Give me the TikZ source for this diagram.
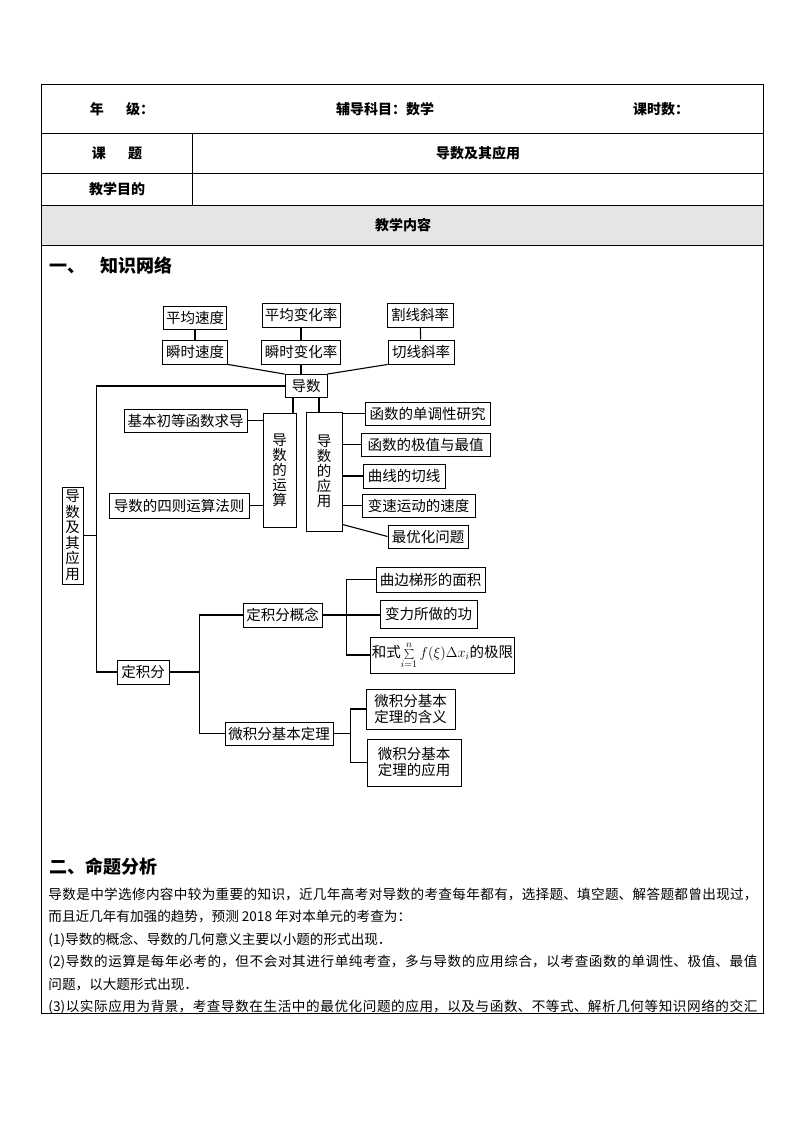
\documentclass[tikz,border=0pt]{standalone}
\usepackage[no-math]{fontspec}
\setmainfont{Noto Sans CJK SC}
\usepackage{tikz}
\usetikzlibrary{positioning,calc}
\XeTeXlinebreaklocale "zh"
\XeTeXlinebreakskip=0pt plus 2pt

\begin{document}
\begin{tikzpicture}[x=1pt,y=-1pt,line width=0.9pt,
  b/.style={draw,inner sep=1pt,font=\fontsize{14.5}{16}\selectfont},
  v/.style={b,align=center,font=\fontsize{14.5}{15}\selectfont},
  sz/.style 2 args={minimum width=#1pt,minimum height=#2pt},
  hd/.style={font=\bfseries\fontsize{14}{16}\selectfont},
  sec/.style={anchor=west,font=\bfseries\fontsize{18}{20}\selectfont}]
  \useasboundingbox (0,0) rectangle (794,1123);
  % table
  \fill[gray!20] (41,205) rectangle (763,245);
  \draw[line width=0.7pt] (41,84) rectangle (763,1013);
  \foreach \y in {133,173,205,245}{\draw[line width=0.7pt] (41,\y) -- (763,\y);}
  \draw[line width=0.7pt] (192,133) -- (192,205);
  \node[hd] (nj) at (122,109) {年\hspace{1.6em}级：};
  \node[hd] (km) at (385,109) {辅导科目：数学};
  \node[hd] (ks) at (661,109) {课时数：};
  \node[hd] (kt) at (117,153) {课\hspace{1.6em}题};
  \node[hd] (ktn) at (478,153) {导数及其应用};
  \node[hd] (md) at (117,189) {教学目的};
  \node[hd] (nr) at (403,225) {教学内容};
  \node[sec] (s1) at (46,266) {一、\hspace{0.8em}知识网络};
  \node[sec] (s2) at (46,867) {二、命题分析};
  % diagram
  \node[b,sz={63}{23}] (pjsd) at (195,318) {平均速度};
  \node[b,sz={78}{24}] (pjbh) at (301,315) {平均变化率};
  \node[b,sz={66}{24}] (gxxl) at (420,315) {割线斜率};
  \node[b,sz={65}{24}] (sssd) at (195,352) {瞬时速度};
  \node[b,sz={79}{24}] (ssbh) at (301,352) {瞬时变化率};
  \node[b,sz={66}{24}] (qxxl) at (421,352) {切线斜率};
  \node[b,sz={42}{23}] (ds) at (306,386) {导数};
  \node[v,sz={33}{114}] (ysy) at (279.5,470) {导\\数\\的\\运\\算};
  \node[v,sz={36}{119}] (yyy) at (324,471.5) {导\\数\\的\\应\\用};
  \node[b,sz={123}{23}] (jbcd) at (185.5,420.5) {基本初等函数求导};
  \node[b,sz={140}{25}] (sze) at (179,505.5) {导数的四则运算法则};
  \node[b,sz={125}{23}] (ddx) at (427.5,413.5) {函数的单调性研究};
  \node[b,sz={129}{23}] (jz) at (425.5,444.5) {函数的极值与最值};
  \node[b,sz={82}{24}] (qx) at (404,476) {曲线的切线};
  \node[b,sz={113}{23}] (bs) at (418.5,505.5) {变速运动的速度};
  \node[b,sz={80}{23}] (zyh) at (428,536.5) {最优化问题};
  \node[v,sz={21}{97},font=\fontsize{14.5}{15.5}\selectfont] (root) at (72.5,535.5) {导\\数\\及\\其\\应\\用};
  \node[b,sz={52}{24}] (djf) at (143,672) {定积分};
  \node[b,sz={79}{24}] (gn) at (282.5,615) {定积分概念};
  \node[b,sz={109}{25}] (mj) at (430.5,579.5) {曲边梯形的面积};
  \node[b,sz={97}{28}] (gong) at (428.5,614) {变力所做的功};
  \node[b,sz={139}{36}] (hs) at (442.5,655) {和式$\sum\limits_{i=1}^{n}f(\xi)\Delta x_i$的极限};
  \node[b,sz={108}{23}] (wjf) at (279,733.5) {微积分基本定理};
  \node[b,sz={89}{40},align=left] (hy) at (410.5,709) {微积分基本\\定理的含义};
  \node[b,sz={94}{47},align=left] (yy) at (414,762.5) {微积分基本\\定理的应用};
  \begin{scope}[line width=1.1pt]
  \foreach \a/\bb in {pjsd/sssd,pjbh/ssbh,gxxl/qxxl}{\draw (\a) -- (\bb);}
  \draw (sssd.south east) -- (ds.north west);
  \draw (ssbh.south) -- (ssbh.south |- ds.north);
  \draw (qxxl.south west) -- (ds.north east);
  \draw (ds.west) -| ($(djf.west)+(-20,0)$) -- (djf.west);
  \draw (root.east) -- +(14,0);
  \draw ([xshift=-13pt]ds.south) -- ([xshift=-13pt]ds.south |- ysy.north);
  \draw ([xshift=13pt]ds.south) -- ([xshift=13pt]ds.south |- yyy.north);
  \foreach \n in {jbcd,sze}{\draw (\n.east) -- (\n.east -| ysy.west);}
  \foreach \n in {ddx,jz,qx,bs}{\draw (\n.west) -- (\n.west -| yyy.east);}
  \draw ([yshift=7pt]yyy.south east) -- (zyh.west);
  \draw (djf.east) -- +(30,0) coordinate (j1);
  \draw (gn.west) -| (j1) |- (wjf.west);
  \draw (gn.east) -- (gn.east -| gong.west);
  \coordinate (j2) at ($(gn.east)+(24,0)$);
  \draw (mj.west) -| (j2) |- (hs.west);
  \draw (wjf.east) -- +(17,0) coordinate (j3);
  \draw (hy.west) -| (j3) |- (yy.west);
  \end{scope}
  % text
  \begin{scope}
  \clip (41,84) rectangle (763,1013);
  \node[anchor=north west,text width=709pt,align=justify,inner sep=0pt,
    font=\fontsize{13.6}{22.5}\selectfont] (fx) at (48,887)
    {导数是中学选修内容中较为重要的知识，近几年高考对导数的考查每年都有，选择题、填空题、解答题都曾出现过，\linebreak
    而且近几年有加强的趋势，预测 2018 年对本单元的考查为：\\
    (1)导数的概念、导数的几何意义主要以小题的形式出现．\\
    (2)导数的运算是每年必考的，但不会对其进行单纯考查，多与导数的应用综合，以考查函数的单调性、极值、最值\linebreak
    问题，以大题形式出现．\\
    (3)以实际应用为背景，考查导数在生活中的最优化问题的应用，以及与函数、不等式、解析几何等知识网络的交汇\linebreak\mbox{}};
  \end{scope}
\end{tikzpicture}
\end{document}
